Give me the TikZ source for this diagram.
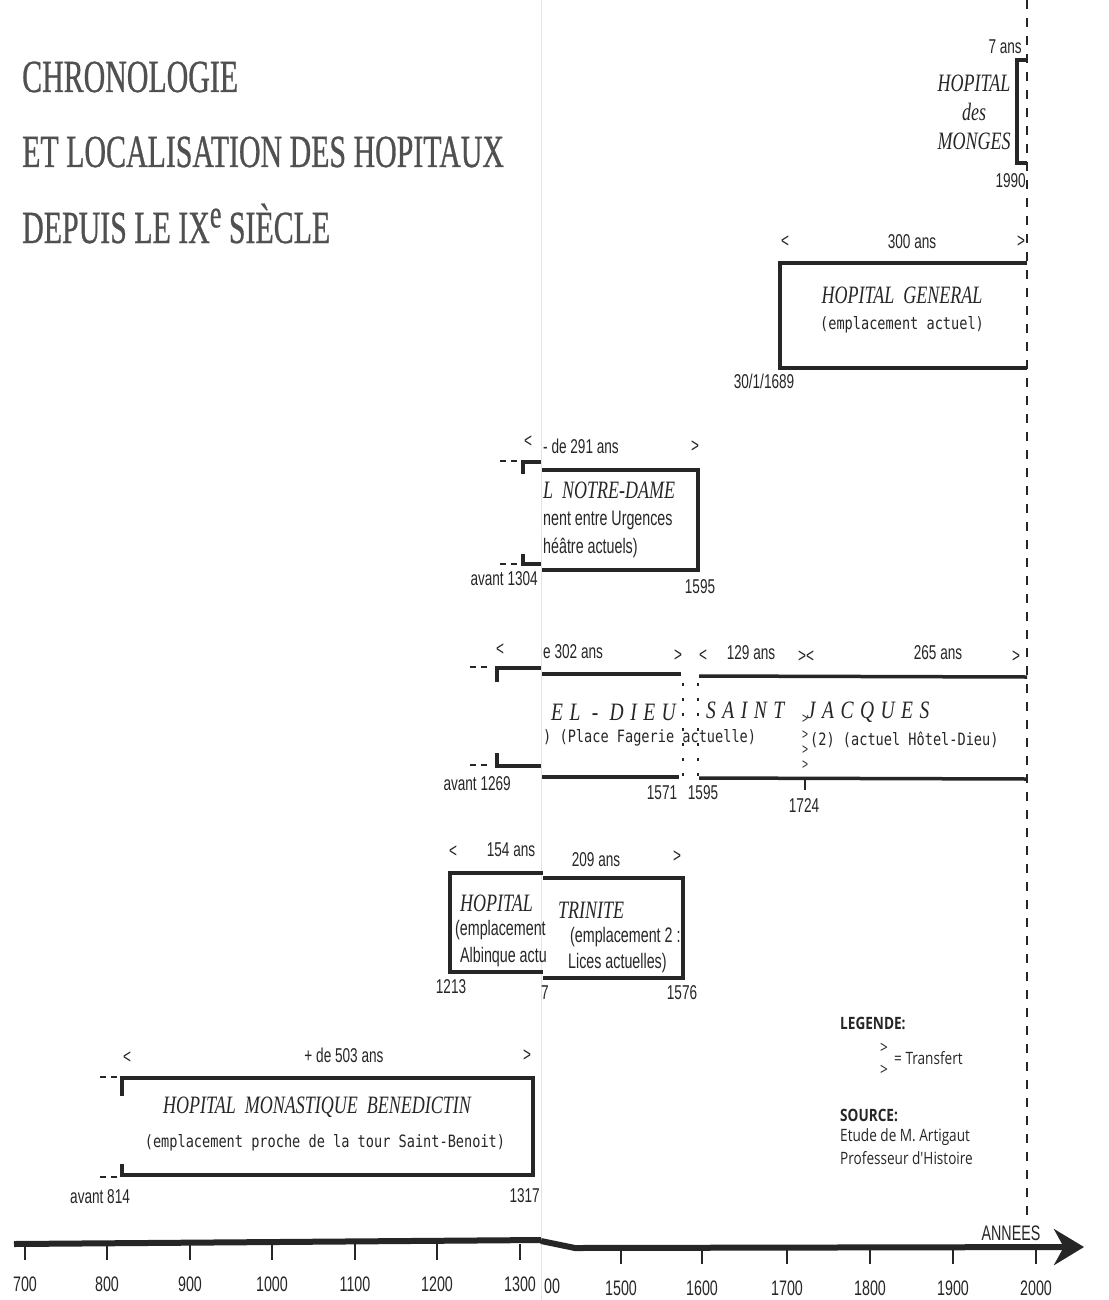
\documentclass[tikz,border=0pt]{standalone}
\usepackage{fontspec}
\setmainfont{Liberation Serif}
\newfontfamily\ttlfont[FakeStretch=0.65,FakeBold=0.6]{Liberation Serif}
\newfontfamily\labfont[FakeStretch=0.68]{Liberation Sans}
\newfontfamily\namefont[FakeStretch=0.72]{Liberation Serif}
\newfontfamily\spacedfont[FakeStretch=0.78,LetterSpace=26]{Liberation Serif}
\newfontfamily\addrfont[FakeStretch=0.8]{DejaVu Sans Mono}
\newfontfamily\legfont[FakeStretch=0.8]{Open Sans}
\usetikzlibrary{arrows.meta}
\definecolor{hpink}{HTML}{262626}
\definecolor{hptitle}{HTML}{505050}
\definecolor{hpfold}{HTML}{E4E4E4}

\begin{document}
\begin{tikzpicture}[
  x=1pt,
  y=-1pt,
  ttl/.style={font=\ttlfont\fontsize{46}{50}\selectfont, text=hptitle, inner sep=0pt},
  lab/.style={font=\labfont\fontsize{20}{22}\selectfont, text=hpink, inner sep=0pt},
  note/.style={font=\labfont\fontsize{21}{23}\selectfont, text=hpink, inner sep=0pt},
  hname/.style={font=\namefont\itshape\fontsize{25}{29}\selectfont, text=hpink, inner sep=0pt},
  spaced/.style={font=\spacedfont\itshape\fontsize{25}{29}\selectfont, text=hpink, inner sep=0pt},
  addr/.style={font=\addrfont\fontsize{17}{19}\selectfont, text=hpink, inner sep=0pt},
  transf/.style={font=\labfont\fontsize{15}{16}\selectfont, text=hpink, inner sep=0pt},
  legtxt/.style={font=\legfont\fontsize{17}{20}\selectfont, text=hpink, inner sep=0pt},
  hbar/.style={draw=hpink, line width=3.5pt, line join=miter},
  leader/.style={draw=hpink, line width=2pt, dash pattern=on 6pt off 5pt},
  sepline/.style={draw=hpink, line width=1.5pt, dash pattern=on 3pt off 12pt},
  nowline/.style={draw=hpink, line width=2pt, dash pattern=on 9pt off 9pt},
  axisln/.style={draw=hpink, line width=6pt},
  tickln/.style={draw=hpink, line width=1.5pt},
  yrlab/.style={font=\labfont\fontsize{21}{23}\selectfont, text=hpink, inner sep=0pt}
]
  \fill[white] (0,0) rectangle (1108,1300);
  \useasboundingbox (0,0) rectangle (1108,1300);
  \draw[hpfold, line width=1pt] (541,0) -- (541,1300);

  % title
  \node[ttl, anchor=base west] (title1) at (22,92) {CHRONOLOGIE};
  \node[ttl, anchor=base west] (title2) at (22,167) {ET LOCALISATION DES HOPITAUX};
  \node[ttl, anchor=base west] (title3) at (22,243) {DEPUIS LE IX\raisebox{.34em}{\fontsize{40}{40}\selectfont e} SIÈCLE};

  % present day
  \draw[nowline] (1027,0) -- (1027,1215);

  % hopital des Monges
  \draw[hbar] (1027,60) -- (1017,60) -- (1017,163) -- (1027,163);
  \node[lab, anchor=east] (mongesdur) at (1022,47) {7 ans};
  \node[hname, align=center] (monges) at (974,112) {HOPITAL\\des\\MONGES};
  \node[lab, anchor=east] (mongesend) at (1026,181) {1990};

  % hopital general
  \draw[hbar] (1027,263) -- (780,263) -- (780,368) -- (1027,368);
  \node[lab] (genlt) at (785,242) {<};
  \node[lab] (gendur) at (912,242) {300 ans};
  \node[lab] (gengt) at (1021,242) {>};
  \node[hname] (general) at (902,295) {HOPITAL\ \ GENERAL};
  \node[addr] (genaddr) at (902,325) {(emplacement actuel)};
  \node[lab] (genstart) at (764,381) {30/1/1689};

  % notre-dame
  \draw[leader] (500,461) -- (518,461);
  \draw[leader] (500,564) -- (518,564);
  \draw[hbar] (523,474) -- (523,462) -- (541,462);
  \draw[hbar] (523,554) -- (523,564) -- (541,564);
  \draw[hbar] (542,470) -- (698,470) -- (698,570) -- (542,570);
  \node[lab] (ndlt) at (528,442) {<};
  \node[lab, anchor=west] (nddur) at (543,446) {- de 291 ans};
  \node[lab] (ndgt) at (695,447) {>};
  \node[hname, anchor=west] (notredame) at (543,490) {L\ \ NOTRE-DAME};
  \node[note, anchor=west] (ndaddr1) at (543,520) {nent entre Urgences};
  \node[note, anchor=west] (ndaddr2) at (543,548) {héâtre actuels)};
  \node[lab, anchor=east] (ndstart) at (538,579) {avant 1304};
  \node[lab] (ndend) at (700,587) {1595};

  % hotel-dieu saint jacques
  \draw[leader] (470,667) -- (488,667);
  \draw[leader] (470,765) -- (488,765);
  \draw[hbar] (497,682) -- (497,668) -- (541,668);
  \draw[hbar] (497,753) -- (497,766) -- (541,766);
  \draw[hbar] (542,674) -- (681,674);
  \draw[hbar] (699,676) -- (1027,677);
  \draw[hbar] (542,777) -- (679,777);
  \draw[hbar] (699,778) -- (1027,779);
  \draw[sepline] (683,683) -- (683,785);
  \draw[sepline] (698,683) -- (698,785);
  \draw[tickln] (805,779) -- (805,790);
  \node[lab] (hdlt) at (500,650) {<};
  \node[lab, anchor=west] (hddur1) at (543,652) {e 302 ans};
  \node[lab] (hdgt1) at (678,656) {>};
  \node[lab] (hdlt2) at (703,656) {<};
  \node[lab] (hddur2) at (751,653) {129 ans};
  \node[lab] (hdgtlt) at (806,657) {><};
  \node[lab] (hddur3) at (938,653) {265 ans};
  \node[lab] (hdgt3) at (1016,657) {>};
  \node[spaced, anchor=west] (hoteldieu) at (551,712) {EL - DIEU};
  \node[spaced, anchor=west] (stjacques) at (706,712) {SAINT\ \ JACQUES};
  \node[addr, anchor=west] (hdaddr1) at (543,738) {) (Place Fagerie actuelle)};
  \node[addr, anchor=west] (hdaddr2) at (810,740) {(2) (actuel Hôtel-Dieu)};
  \node[transf] (transf1) at (805,719) {>};
  \node[transf] (transf2) at (805,735) {>};
  \node[transf] (transf3) at (805,750) {>};
  \node[transf] (transf4) at (805,765) {>};
  \node[lab, anchor=east] (hdstart) at (511,784) {avant 1269};
  \node[lab] (hdend1) at (662,793) {1571};
  \node[lab] (hdstart2) at (703,793) {1595};
  \node[lab] (hdtransf) at (804,806) {1724};

  % trinite
  \draw[hbar] (543,873) -- (450,873) -- (450,972) -- (543,972);
  \draw[hbar] (543,878) -- (683,878) -- (683,978) -- (543,978);
  \node[lab] (trlt) at (453,852) {<};
  \node[lab] (trdur1) at (511,850) {154 ans};
  \node[lab] (trdur2) at (596,860) {209 ans};
  \node[lab] (trgt) at (677,857) {>};
  \node[hname, anchor=west] (trhop) at (460,903) {HOPITAL};
  \node[hname, anchor=west] (trinite) at (558,910) {TRINITE};
  \node[note, anchor=west] (traddr1) at (455,930) {(emplacement};
  \node[note, anchor=west] (traddr2) at (460,957) {Albinque actu};
  \node[note, anchor=west] (traddr3) at (570,937) {(emplacement 2 :};
  \node[note, anchor=west] (traddr4) at (568,963) {Lices actuelles)};
  \node[lab] (trstart) at (451,987) {1213};
  \node[lab] (trmid) at (545,993) {7};
  \node[lab] (trend) at (682,993) {1576};

  % benedictin
  \draw[leader] (100,1077) -- (119,1077);
  \draw[leader] (100,1177) -- (119,1177);
  \draw[hbar] (122,1096) -- (122,1078) -- (533,1078) -- (533,1175) -- (122,1175) -- (122,1164);
  \node[lab] (benlt) at (127,1058) {<};
  \node[lab] (bendur) at (344,1055) {+ de 503 ans};
  \node[lab] (bengt) at (527,1056) {>};
  \node[hname] (benedictin) at (317,1107) {HOPITAL\ \ MONASTIQUE\ \ BENEDICTIN};
  \node[addr] (benaddr) at (325,1143) {(emplacement proche de la tour Saint-Benoit)};
  \node[lab, anchor=west] (benstart) at (70,1197) {avant 814};
  \node[lab, anchor=east] (benend) at (540,1196) {1317};

  % legende
  \node[legtxt, anchor=west, font=\legfont\bfseries\fontsize{17}{20}\selectfont] (legende) at (840,1023) {LEGENDE:};
  \node[legtxt] (leggt1) at (884,1048) {>};
  \node[legtxt] (leggt2) at (884,1070) {>};
  \node[legtxt, anchor=west] (legtransf) at (894,1058) {= Transfert};
  \node[legtxt, anchor=west, font=\legfont\bfseries\fontsize{17}{20}\selectfont] (source) at (840,1115) {SOURCE:};
  \node[legtxt, anchor=west] (source1) at (840,1137) {Etude de M. Artigaut};
  \node[legtxt, anchor=west] (source2) at (840,1158) {Professeur d'Histoire};

  % axe des annees
  \draw[axisln] (14,1244) -- (541,1240);
  \draw[axisln, -{Stealth[length=30pt,width=36pt]}] (541,1241) -- (575,1248) -- (1084,1247);
  \foreach \x/\yr in {25/700,107/800,190/900,272/1000,355/1100,437/1200,520/1300}{
    \draw[tickln] (\x,1244) -- (\x,1260);
    \node[yrlab] (yr\yr) at (\x,1284) {\yr};
  }
  \foreach \x/\yr in {621/1500,702/1600,787/1700,870/1800,953/1900,1036/2000}{
    \draw[tickln] (\x,1248) -- (\x,1264);
    \node[yrlab] (yr\yr) at (\x,1288) {\yr};
  }
  \node[yrlab] (yr1400) at (552,1286) {00};
  \node[yrlab] (annees) at (1011,1233) {ANNEES};
\end{tikzpicture}
\end{document}
